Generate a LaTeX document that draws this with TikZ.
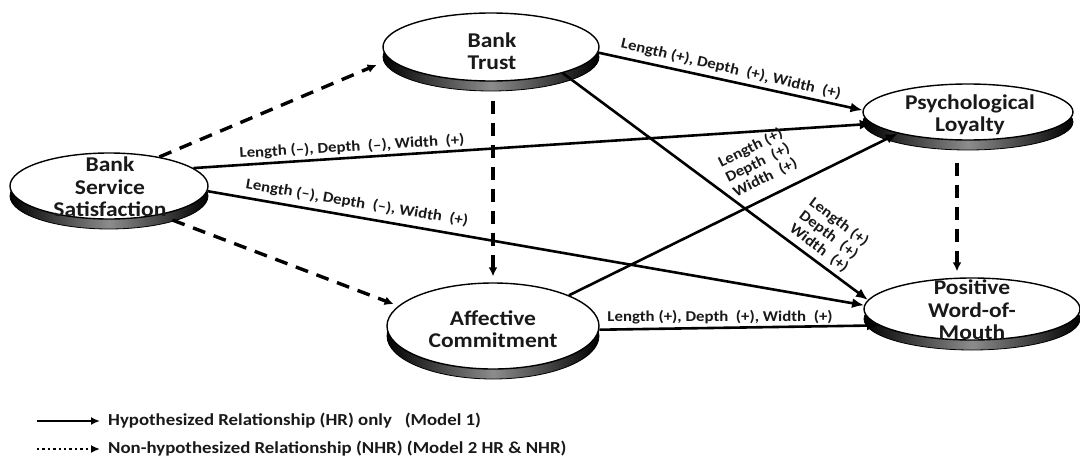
\documentclass[tikz,border=0pt]{standalone}
\usepackage{fontspec}
\setmainfont{Carlito}[FakeStretch=1.12]
\usetikzlibrary{shapes.geometric,shadows,arrows.meta}
\begin{document}
\begin{tikzpicture}[x=1pt,y=-1pt,
  oval/.style={ellipse, draw=black, line width=1.4pt, fill=white, inner sep=0pt,
    general shadow={shadow yshift=-10pt, left color=black, right color=black, middle color=black!45, draw=black, line width=0.8pt}},
  lbl/.style={font=\fontsize{21}{22.5}\selectfont\bfseries, align=center, text=black!90, inner sep=0pt},
  hr/.style={line width=2.6pt, -{Latex[length=12pt,width=10pt]}},
  nhr/.style={line width=3.4pt, dash pattern=on 13pt off 9pt, -{Latex[length=9pt,width=9pt]}},
  elab/.style={font=\fontsize{15}{16.5}\selectfont\bfseries, inner sep=0pt, text=black!90},
  leg/.style={font=\fontsize{16.8}{18}\selectfont\bfseries, anchor=west, inner sep=0pt, text=black!90},
]
\useasboundingbox (0,0) rectangle (1080,461);

% ellipses
\node[oval, minimum width=198pt, minimum height=66pt] (bss) at (109,186) {};
\node[oval, minimum width=216pt, minimum height=68pt] (bt) at (491,47) {};
\node[oval, minimum width=210pt, minimum height=56pt] (pl) at (968,112) {};
\node[oval, minimum width=216pt, minimum height=62pt] (pwom) at (972,309) {};
\node[oval, minimum width=212pt, minimum height=86pt] (ac) at (493,326) {};

\node[lbl] (bssT) at (110,187) {Bank\\Service\\Satisfaction};
\node[lbl] (btT) at (492,51) {Bank\\Trust};
\node[lbl] (plT) at (970,115) {Psychological\\Loyalty};
\node[lbl] (pwomT) at (972,310) {Positive\\Word-of-\\Mouth};
\node[lbl] (acT) at (493,329) {Affective\\Commitment};

% non-hypothesized (dashed)
\draw[nhr, shorten >=14pt] (bss.30) -- (bt.187);
\draw[nhr, shorten <=14pt, shorten >=5pt] (bss.-30) -- (ac.168);
\draw[nhr, shorten >=6pt] ([yshift=-19pt]bt.south -| ac.north) -- (ac.north);
\draw[nhr, shorten >=6pt] ([xshift=-11pt,yshift=-22pt]pl.south) -- ([xshift=-15pt]pwom.north);

% hypothesized (solid)
\draw[hr] (bss.12) -- (pl.187);
\draw[hr] (bss.-3) -- (pwom.178);
\draw[hr] (bt.-3) -- (pl.179);
\draw[hr] (bt.-20) -- (pwom.175);
\draw[hr] (ac.22) -- (pl.197);
\draw[hr] (ac.-2) -- (pwom.190);

% edge labels
\node[elab, rotate=3.4] (l1) at (352,147) {Length (–), Depth~~(–), Width~~(+)};
\node[elab, rotate=-9.5] (l2) at (357,203) {Length (–), Depth~~(–), Width~~(+)};
\node[elab, rotate=-13] (l3) at (731,69) {Length (+), Depth~~(+), Width~~(+)};
\node[elab, rotate=26.5, align=left] (l4) at (758,163) {Length (+)\\Depth~~(+)\\Width~~(+)};
\node[elab, rotate=-37, align=left] (l5) at (829,235) {Length (+)\\Depth~~(+)\\Width~~(+)};
\node[elab] (l6) at (720,317) {Length (+), Depth~~(+), Width~~(+)};

% legend
\coordinate (ls1) at (37,421);
\coordinate (le1) at (100,421);
\coordinate (ls2) at (37,449);
\coordinate (le2) at (100,449);
\draw[line width=2.4pt, -{Latex[length=9pt,width=8pt]}] (ls1) -- (le1);
\draw[line width=2.4pt, dash pattern=on 2.4pt off 3pt, -{Latex[length=9pt,width=8pt]}] (ls2) -- (le2);
\node[leg] (t1) at (108,421) {Hypothesized Relationship (HR) only~~~(Model 1)};
\node[leg] (t2) at (108,449) {Non-hypothesized Relationship (NHR) (Model 2 HR \& NHR)};
\end{tikzpicture}
\end{document}
